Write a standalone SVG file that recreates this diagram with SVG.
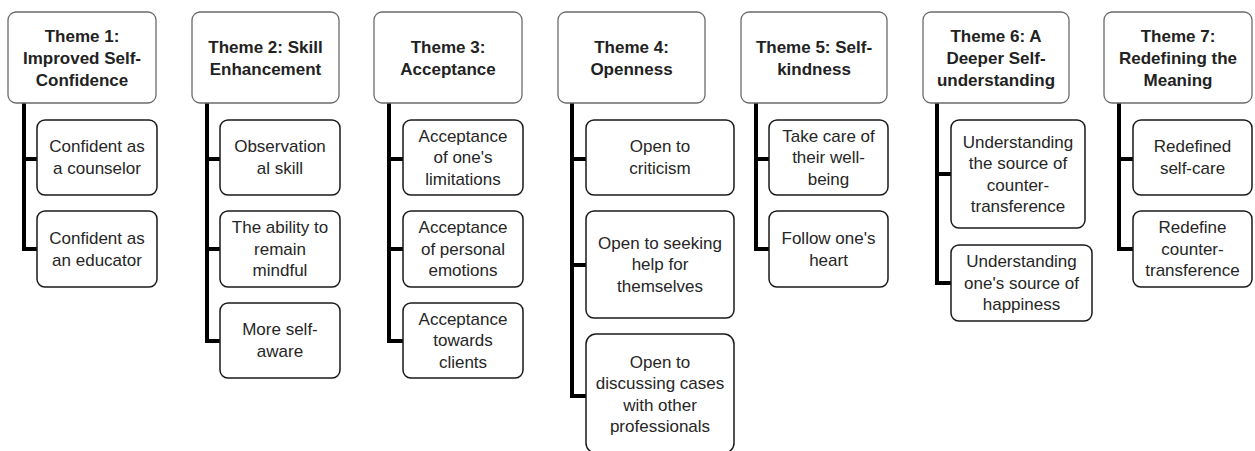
<svg xmlns="http://www.w3.org/2000/svg" width="1255" height="451" viewBox="0 0 1255 451">
<style>
.t{fill:#fff;stroke:#6b6b6b;stroke-width:1.3}
.c{fill:#fff;stroke:#1a1a1a;stroke-width:1.5}
.tt{font-family:"Liberation Sans",Arial,sans-serif;font-size:17px;font-weight:bold;fill:#222;text-anchor:middle}
.ct{font-family:"Liberation Sans",Arial,sans-serif;font-size:17px;fill:#262626;text-anchor:middle}
.con{fill:none;stroke:#000;stroke-width:4;stroke-linejoin:miter}
</style>
<rect width="1255" height="451" fill="#fff"/>
<g id="connectors">
<path class="con" d="M24 103V249H37M24 159H37"/>
<path class="con" d="M207 103V341H220M207 159H220M207 249H220"/>
<path class="con" d="M389 103V341H403M389 159H403M389 249H403"/>
<path class="con" d="M572 103V396H586M572 159H586M572 265H586"/>
<path class="con" d="M756 103V249H769M756 159H769"/>
<path class="con" d="M937 103V283H951M937 174H951"/>
<path class="con" d="M1119 103V249H1133M1119 159H1133"/>
</g>
<g id="theme1">
<rect class="t" x="8" y="12" width="148" height="91" rx="8"/>
<text class="tt" x="82" y="41.5">Theme 1:</text>
<text class="tt" x="82" y="63.5">Improved Self-</text>
<text class="tt" x="82" y="85.5">Confidence</text>
</g>
<g id="t1c1">
<rect class="c" x="37" y="120" width="120" height="75" rx="8"/>
<text class="ct" x="97" y="152">Confident as</text>
<text class="ct" x="97" y="174">a counselor</text>
</g>
<g id="t1c2">
<rect class="c" x="37" y="211" width="120" height="76" rx="8"/>
<text class="ct" x="97" y="244">Confident as</text>
<text class="ct" x="97" y="265.5">an educator</text>
</g>
<g id="theme2">
<rect class="t" x="192" y="12" width="147" height="91" rx="8"/>
<text class="tt" x="265.5" y="52.5">Theme 2: Skill</text>
<text class="tt" x="265.5" y="74.5">Enhancement</text>
</g>
<g id="t2c1">
<rect class="c" x="220" y="120" width="120" height="75" rx="8"/>
<text class="ct" x="280" y="152">Observation</text>
<text class="ct" x="280" y="174">al skill</text>
</g>
<g id="t2c2">
<rect class="c" x="220" y="211" width="120" height="76" rx="8"/>
<text class="ct" x="280" y="233">The ability to</text>
<text class="ct" x="280" y="254.5">remain</text>
<text class="ct" x="280" y="276">mindful</text>
</g>
<g id="t2c3">
<rect class="c" x="220" y="303" width="120" height="75" rx="8"/>
<text class="ct" x="280" y="335">More self-</text>
<text class="ct" x="280" y="357">aware</text>
</g>
<g id="theme3">
<rect class="t" x="374" y="12" width="148" height="91" rx="8"/>
<text class="tt" x="448" y="52.5">Theme 3:</text>
<text class="tt" x="448" y="74.5">Acceptance</text>
</g>
<g id="t3c1">
<rect class="c" x="403" y="120" width="120" height="75" rx="8"/>
<text class="ct" x="463" y="141.5">Acceptance</text>
<text class="ct" x="463" y="163">of one's</text>
<text class="ct" x="463" y="184.5">limitations</text>
</g>
<g id="t3c2">
<rect class="c" x="403" y="211" width="120" height="76" rx="8"/>
<text class="ct" x="463" y="233">Acceptance</text>
<text class="ct" x="463" y="254.5">of personal</text>
<text class="ct" x="463" y="276">emotions</text>
</g>
<g id="t3c3">
<rect class="c" x="403" y="303" width="120" height="75" rx="8"/>
<text class="ct" x="463" y="324.5">Acceptance</text>
<text class="ct" x="463" y="346">towards</text>
<text class="ct" x="463" y="367.5">clients</text>
</g>
<g id="theme4">
<rect class="t" x="558" y="12" width="147" height="91" rx="8"/>
<text class="tt" x="631.5" y="52.5">Theme 4:</text>
<text class="tt" x="631.5" y="74.5">Openness</text>
</g>
<g id="t4c1">
<rect class="c" x="586" y="120" width="148" height="75" rx="8"/>
<text class="ct" x="660" y="152">Open to</text>
<text class="ct" x="660" y="174">criticism</text>
</g>
<g id="t4c2">
<rect class="c" x="586" y="211" width="148" height="107" rx="8"/>
<text class="ct" x="660" y="248.5">Open to seeking</text>
<text class="ct" x="660" y="270">help for</text>
<text class="ct" x="660" y="291.5">themselves</text>
</g>
<g id="t4c3">
<rect class="c" x="586" y="334" width="148" height="119" rx="10"/>
<text class="ct" x="660" y="367.5">Open to</text>
<text class="ct" x="660" y="389">discussing cases</text>
<text class="ct" x="660" y="410.5">with other</text>
<text class="ct" x="660" y="432">professionals</text>
</g>
<g id="theme5">
<rect class="t" x="741" y="12" width="146" height="91" rx="8"/>
<text class="tt" x="814" y="52.5">Theme 5: Self-</text>
<text class="tt" x="814" y="74.5">kindness</text>
</g>
<g id="t5c1">
<rect class="c" x="769" y="120" width="119" height="75" rx="8"/>
<text class="ct" x="828.5" y="141.5">Take care of</text>
<text class="ct" x="828.5" y="163">their well-</text>
<text class="ct" x="828.5" y="184.5">being</text>
</g>
<g id="t5c2">
<rect class="c" x="769" y="211" width="119" height="76" rx="8"/>
<text class="ct" x="828.5" y="244">Follow one's</text>
<text class="ct" x="828.5" y="265.5">heart</text>
</g>
<g id="theme6">
<rect class="t" x="923" y="12" width="146" height="91" rx="8"/>
<text class="tt" x="996" y="41.5">Theme 6: A</text>
<text class="tt" x="996" y="63.5">Deeper Self-</text>
<text class="tt" x="996" y="85.5">understanding</text>
</g>
<g id="t6c1">
<rect class="c" x="951" y="120" width="134" height="108" rx="8"/>
<text class="ct" x="1018" y="147.5">Understanding</text>
<text class="ct" x="1018" y="169">the source of</text>
<text class="ct" x="1018" y="190.5">counter-</text>
<text class="ct" x="1018" y="212">transference</text>
</g>
<g id="t6c2">
<rect class="c" x="951" y="245" width="141" height="76" rx="8"/>
<text class="ct" x="1021.5" y="267">Understanding</text>
<text class="ct" x="1021.5" y="288.5">one's source of</text>
<text class="ct" x="1021.5" y="310">happiness</text>
</g>
<g id="theme7">
<rect class="t" x="1104" y="12" width="148" height="91" rx="8"/>
<text class="tt" x="1178" y="41.5">Theme 7:</text>
<text class="tt" x="1178" y="63.5">Redefining the</text>
<text class="tt" x="1178" y="85.5">Meaning</text>
</g>
<g id="t7c1">
<rect class="c" x="1133" y="120" width="119" height="75" rx="8"/>
<text class="ct" x="1192.5" y="152">Redefined</text>
<text class="ct" x="1192.5" y="174">self-care</text>
</g>
<g id="t7c2">
<rect class="c" x="1133" y="211" width="119" height="76" rx="8"/>
<text class="ct" x="1192.5" y="233">Redefine</text>
<text class="ct" x="1192.5" y="254.5">counter-</text>
<text class="ct" x="1192.5" y="276">transference</text>
</g>
</svg>
